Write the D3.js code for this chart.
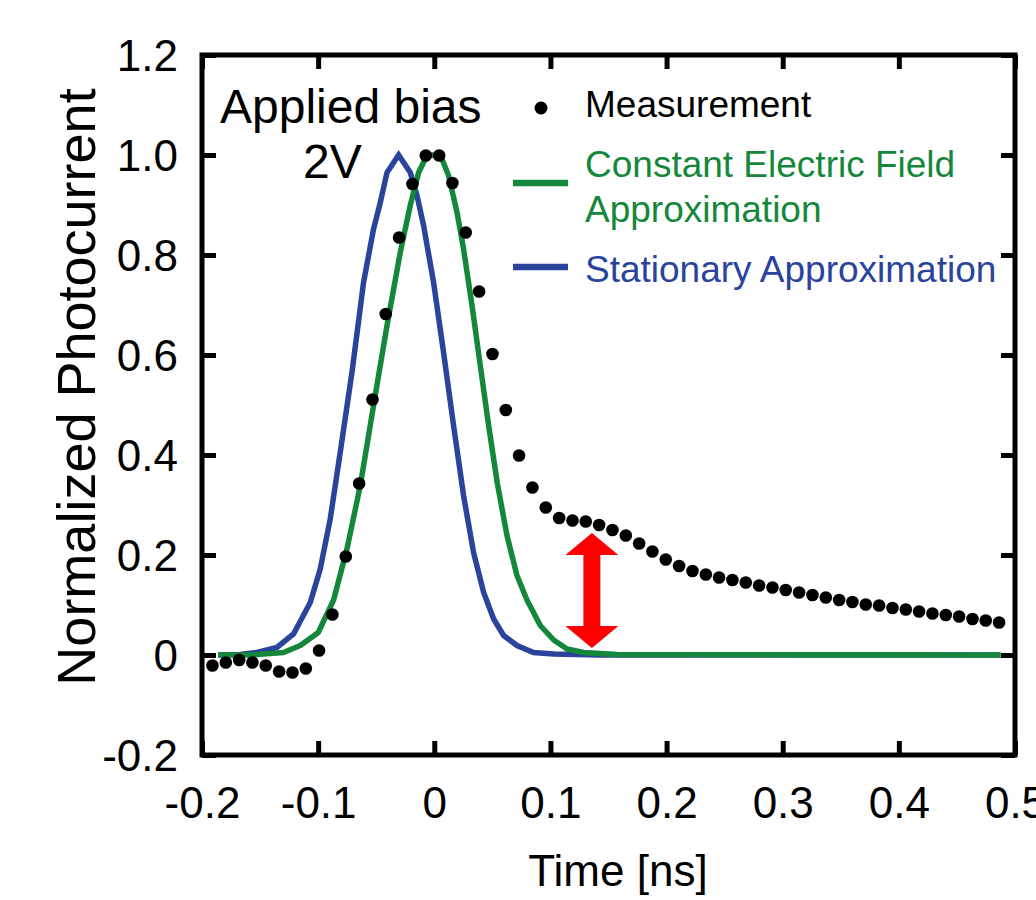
<!DOCTYPE html>
<html>
<head>
<meta charset="utf-8">
<script src="https://cdn.jsdelivr.net/npm/d3@7"></script>
<style>
  html, body { margin: 0; padding: 0; background: #fff; }
  svg { display: block; }
  text { font-family: "Liberation Sans", Arial, sans-serif; }
</style>
</head>
<body>
<svg id="chart" width="1036" height="900"></svg>
<script>
// Measured photocurrent (normalized) vs time, applied bias 2 V
const measTime = [-0.191, -0.1795, -0.168, -0.1566, -0.1451, -0.1336, -0.1221, -0.1106, -0.0992, -0.0877,
  -0.0762, -0.0647, -0.0532, -0.0418, -0.0303, -0.0188, -0.0073, 0.0042, 0.0156, 0.0271,
  0.0386, 0.0501, 0.0616, 0.073, 0.0845, 0.096, 0.1075, 0.119, 0.1304, 0.1419,
  0.1534, 0.1649, 0.1764, 0.1878, 0.1993, 0.2108, 0.2223, 0.2338, 0.2452, 0.2567,
  0.2682, 0.2797, 0.2912, 0.3026, 0.3141, 0.3256, 0.3371, 0.3486, 0.36, 0.3715,
  0.383, 0.3945, 0.406, 0.4174, 0.4289, 0.4404, 0.4519, 0.4634, 0.4748, 0.4863];
const measValue = [-0.021, -0.015, -0.010, -0.015, -0.021, -0.033, -0.035, -0.027, 0.009, 0.081,
  0.197, 0.343, 0.511, 0.682, 0.835, 0.942, 0.999, 0.999, 0.944, 0.845,
  0.727, 0.602, 0.490, 0.399, 0.335, 0.295, 0.274, 0.269, 0.267, 0.260,
  0.250, 0.239, 0.223, 0.207, 0.191, 0.178, 0.168, 0.161, 0.155, 0.150,
  0.145, 0.139, 0.135, 0.130, 0.125, 0.120, 0.115, 0.110, 0.106, 0.101,
  0.099, 0.094, 0.091, 0.087, 0.083, 0.080, 0.077, 0.072, 0.069, 0.065];

// Constant electric field approximation
const cefTime = [-0.186, -0.1585, -0.1298, -0.1154, -0.0999, -0.0867, -0.0752, -0.0637, -0.0523, -0.0407,
  -0.0293, -0.0207, -0.0135, -0.0063, -0.0006, 0.0066, 0.0123, 0.0196, 0.0252, 0.0325,
  0.0396, 0.0468, 0.0543, 0.0626, 0.0712, 0.0798, 0.0913, 0.1028, 0.1143, 0.1286,
  0.1574, 0.4875];
const cefValue = [0, 0, 0.005, 0.019, 0.045, 0.11, 0.212, 0.339, 0.499, 0.659,
  0.805, 0.899, 0.965, 0.999, 1.0, 0.992, 0.959, 0.885, 0.812, 0.699,
  0.579, 0.459, 0.343, 0.239, 0.159, 0.11, 0.059, 0.03, 0.012, 0.005,
  0.001, 0];

// Stationary approximation
const statTime = [-0.186, -0.1671, -0.1527, -0.1355, -0.1212, -0.1068, -0.0982, -0.0896, -0.081, -0.0706,
  -0.0609, -0.0523, -0.0465, -0.0407, -0.0307, -0.0207, -0.0149, -0.0092, -0.0006, 0.008,
  0.0166, 0.0252, 0.0338, 0.0425, 0.0511, 0.0597, 0.0712, 0.0855, 0.1028, 0.143,
  0.4875];
const statValue = [0, 0.001, 0.005, 0.015, 0.042, 0.105, 0.172, 0.272, 0.405, 0.57,
  0.745, 0.852, 0.905, 0.965, 1.0, 0.965, 0.919, 0.859, 0.745, 0.605,
  0.459, 0.319, 0.205, 0.125, 0.072, 0.039, 0.019, 0.005, 0.002, 0,
  0];

// Gap marker between measurement tail and model
const gapTime = 0.1357;
const gapFrom = 0.014;
const gapTo = 0.244;

const xTicks = [-0.2, -0.1, 0, 0.1, 0.2, 0.3, 0.4, 0.5];
const xTickLabels = ["-0.2", "-0.1", "0", "0.1", "0.2", "0.3", "0.4", "0.5"];
const yTicks = [-0.2, 0, 0.2, 0.4, 0.6, 0.8, 1.0, 1.2];
const yTickLabels = ["-0.2", "0", "0.2", "0.4", "0.6", "0.8", "1.0", "1.2"];

const GREEN = "#15873a";
const BLUE = "#2a439b";

const svg = d3.select("#chart");
const plotLeft = 202, plotRight = 1015, plotTop = 55, plotBottom = 755;

const x = d3.scaleLinear().domain([-0.2, 0.5]).range([plotLeft, plotRight]);
const y = d3.scaleLinear().domain([-0.2, 1.2]).range([plotBottom, plotTop]);

const tickLen = 14;

// Axes: labelled bottom/left, plain ticks on top/right, all pointing inward
const axB = d3.axisBottom(x).tickValues(xTicks).tickSizeInner(-tickLen).tickSizeOuter(0)
  .tickFormat((d, i) => xTickLabels[i]).tickPadding(0);
const axT = d3.axisTop(x).tickValues(xTicks).tickSizeInner(-tickLen).tickSizeOuter(0).tickFormat("");
const axL = d3.axisLeft(y).tickValues(yTicks).tickSizeInner(-tickLen).tickSizeOuter(0)
  .tickFormat((d, i) => yTickLabels[i]).tickPadding(0);
const axR = d3.axisRight(y).tickValues(yTicks).tickSizeInner(-tickLen).tickSizeOuter(0).tickFormat("");

function styleAxis(g) {
  g.select(".domain").remove();
  g.selectAll(".tick line").attr("stroke", "#000").attr("stroke-width", 5);
  g.selectAll(".tick text").attr("fill", "#000").attr("font-size", 44)
    .attr("font-family", "Liberation Sans, Arial, sans-serif");
}

const gB = svg.append("g").attr("transform", `translate(0,${plotBottom})`).call(axB).call(styleAxis);
gB.selectAll(".tick text").attr("y", 63).attr("dy", 0);
svg.append("g").attr("transform", `translate(0,${plotTop})`).call(axT).call(styleAxis);
const gL = svg.append("g").attr("transform", `translate(${plotLeft},0)`).call(axL).call(styleAxis);
gL.selectAll(".tick text").attr("x", -24).attr("dy", "0.36em");
svg.append("g").attr("transform", `translate(${plotRight},0)`).call(axR).call(styleAxis);

// Plot frame
svg.append("rect")
  .attr("x", plotLeft).attr("y", plotTop)
  .attr("width", plotRight - plotLeft).attr("height", plotBottom - plotTop)
  .attr("fill", "none").attr("stroke", "#000").attr("stroke-width", 5);

// Model curves
const line = d3.line().x(d => x(d[0])).y(d => y(d[1]));
const statData = statTime.map((t, i) => [t, statValue[i]]);
const cefData = cefTime.map((t, i) => [t, cefValue[i]]);

svg.append("path").datum(statData).attr("d", line)
  .attr("fill", "none").attr("stroke", BLUE).attr("stroke-width", 5.5).attr("stroke-linejoin", "miter");
svg.append("path").datum(cefData).attr("d", line)
  .attr("fill", "none").attr("stroke", GREEN).attr("stroke-width", 5.5).attr("stroke-linejoin", "round");

// Double-headed arrow marking the gap
{
  const cx = x(gapTime), y1 = y(gapTo), y2 = y(gapFrom);
  const hw = 26.5, hl = 22, sw = 8.5;
  const p = d3.path();
  p.moveTo(cx, y1);
  p.lineTo(cx + hw, y1 + hl);
  p.lineTo(cx + sw, y1 + hl);
  p.lineTo(cx + sw, y2 - hl);
  p.lineTo(cx + hw, y2 - hl);
  p.lineTo(cx, y2);
  p.lineTo(cx - hw, y2 - hl);
  p.lineTo(cx - sw, y2 - hl);
  p.lineTo(cx - sw, y1 + hl);
  p.lineTo(cx - hw, y1 + hl);
  p.closePath();
  svg.append("path").attr("d", p.toString()).attr("fill", "#ff0000");
}

// Measurement points
svg.append("g").selectAll("circle")
  .data(measTime.map((t, i) => [t, measValue[i]]))
  .join("circle")
  .attr("cx", d => x(d[0])).attr("cy", d => y(d[1]))
  .attr("r", 6.3).attr("fill", "#000");

// Annotation
svg.append("text").attr("x", 220).attr("y", 123).attr("font-size", 48).attr("fill", "#000").text("Applied bias");
svg.append("text").attr("x", 303).attr("y", 178).attr("font-size", 48).attr("fill", "#000").text("2V");

// Legend
const lg = svg.append("g");
lg.append("circle").attr("cx", 541).attr("cy", 108).attr("r", 6.5).attr("fill", "#000");
lg.append("text").attr("x", 585).attr("y", 117).attr("font-size", 37).attr("fill", "#000").text("Measurement");
lg.append("line").attr("x1", 513).attr("x2", 568).attr("y1", 183).attr("y2", 183)
  .attr("stroke", GREEN).attr("stroke-width", 6.5);
lg.append("text").attr("x", 585).attr("y", 177).attr("font-size", 37).attr("fill", GREEN).text("Constant Electric Field");
lg.append("text").attr("x", 585).attr("y", 222).attr("font-size", 37).attr("fill", GREEN).text("Approximation");
lg.append("line").attr("x1", 513).attr("x2", 568).attr("y1", 267).attr("y2", 267)
  .attr("stroke", BLUE).attr("stroke-width", 6.5);
lg.append("text").attr("x", 585).attr("y", 282).attr("font-size", 37).attr("fill", BLUE).text("Stationary Approximation");

// Axis titles
svg.append("text").attr("x", 618).attr("y", 886).attr("text-anchor", "middle")
  .attr("font-size", 44).attr("fill", "#000").text("Time [ns]");
svg.append("text").attr("transform", "translate(95,387) rotate(-90)").attr("text-anchor", "middle")
  .attr("font-size", 54).attr("fill", "#000").text("Normalized Photocurrent");
</script>
</body>
</html>
